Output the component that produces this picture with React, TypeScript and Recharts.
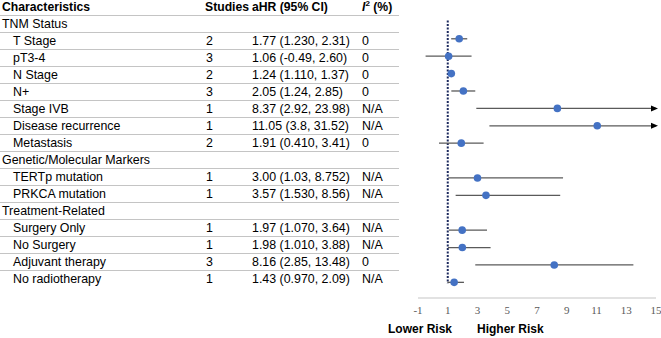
import React from 'react'
import { ScatterChart, Scatter, XAxis, YAxis, ErrorBar, ReferenceLine } from 'recharts'

// table + forest plot data
const groups = ['TNM Status', 'Genetic/Molecular Markers', 'Treatment-Related']
const labels = [
  'T Stage', 'pT3-4', 'N Stage', 'N+', 'Stage IVB', 'Disease recurrence', 'Metastasis',
  'TERTp mutation', 'PRKCA mutation',
  'Surgery Only', 'No Surgery', 'Adjuvant therapy', 'No radiotherapy',
]
const groupOf = [0, 0, 0, 0, 0, 0, 0, 1, 1, 2, 2, 2, 2]
const studies = [2, 3, 2, 3, 1, 1, 2, 1, 1, 1, 1, 3, 1]
const hrText = ['1.77', '1.06', '1.24', '2.05', '8.37', '11.05', '1.91', '3.00', '3.57', '1.97', '1.98', '8.16', '1.43']
const loText = ['1.230', '-0.49', '1.110', '1.24', '2.92', '3.8', '0.410', '1.03', '1.530', '1.070', '1.010', '2.85', '0.970']
const hiText = ['2.31', '2.60', '1.37', '2.85', '23.98', '31.52', '3.41', '8.752', '8.56', '3.64', '3.88', '13.48', '2.09']
const i2 = ['0', '0', '0', '0', 'N/A', 'N/A', '0', 'N/A', 'N/A', 'N/A', 'N/A', '0', 'N/A']
const xTicks = [-1, 1, 3, 5, 7, 9, 11, 13, 15]
const X_MIN = -1
const X_MAX = 15

type Row = { kind: 'group' | 'item'; text: string; i?: number }

const rows: Row[] = []
labels.forEach((l, i) => {
  if (i === 0 || groupOf[i] !== groupOf[i - 1]) rows.push({ kind: 'group', text: groups[groupOf[i]] })
  rows.push({ kind: 'item', text: l, i })
})

// row index 0 is the header, so items start at 1
const points = rows
  .map((r, idx) => ({ r, idx: idx + 1 }))
  .filter(d => d.r.kind === 'item')
  .map(({ r, idx }) => {
    const i = r.i as number
    const hr = parseFloat(hrText[i])
    const lo = parseFloat(loText[i])
    const hi = parseFloat(hiText[i])
    return { x: hr, y: idx, err: [hr - lo, Math.min(hi, X_MAX) - hr], over: hi > X_MAX }
  })
const arrows = points.filter(p => p.over).map(p => ({ x: X_MAX, y: p.y }))

const font = '"Liberation Sans", Arial, sans-serif'
const ROW_H = 17
const cols = { studies: 205, ahr: 252, i2: 362 }

function Table() {
  const total = rows.length + 1
  const rowStyle = (k: number): React.CSSProperties => ({
    position: 'absolute', left: 0, top: k * ROW_H - 1, width: 399, height: 16,
    borderBottom: k < total - 1 ? '1px solid #c4c4c4' : 'none',
    lineHeight: '16px', fontSize: 12.4, color: '#000', fontFamily: font, whiteSpace: 'nowrap',
  })
  const cell = (left: number): React.CSSProperties => ({ position: 'absolute', left, top: 0 })
  return (
    <div style={{ position: 'absolute', left: 0, top: 0, width: 400, height: 300 }}>
      <div style={{ ...rowStyle(0), fontWeight: 700, fontSize: 12.2 }}>
        <span style={cell(2)}>Characteristics</span>
        <span style={cell(cols.studies)}>Studies</span>
        <span style={cell(cols.ahr)}>aHR (95% CI)</span>
        <span style={cell(cols.i2)}>
          <i>I</i><sup style={{ fontSize: 8, verticalAlign: 'top', lineHeight: '10px' }}>2</sup> (%)
        </span>
      </div>
      {rows.map((r, k) => (
        <div key={k} style={rowStyle(k + 1)}>
          {r.kind === 'group' ? (
            <span style={cell(2)}>{r.text}</span>
          ) : (
            <>
              <span style={cell(13)}>{r.text}</span>
              <span style={cell(cols.studies + 1)}>{studies[r.i as number]}</span>
              <span style={cell(cols.ahr)}>
                {hrText[r.i as number]} ({loText[r.i as number]}, {hiText[r.i as number]})
              </span>
              <span style={cell(cols.i2)}>{i2[r.i as number]}</span>
            </>
          )}
        </div>
      ))}
    </div>
  )
}

export default function App() {
  return (
    <div style={{ position: 'absolute', left: 0, top: 0, width: 661, height: 338, background: '#fff' }}>
      <Table />
      <div style={{ position: 'absolute', left: 0, top: 0 }}>
        <ScatterChart width={661} height={338} margin={{ top: 4, right: 5, bottom: 10, left: 418 }}>
          <XAxis
            type="number"
            dataKey="x"
            domain={[X_MIN, X_MAX]}
            ticks={xTicks}
            interval={0}
            tickLine={false}
            axisLine={{ stroke: '#d9d9d9', strokeWidth: 1.5 }}
            tick={{ fill: '#595959', fontSize: 11, fontFamily: '"Liberation Serif", "Times New Roman", serif' }}
            height={30}
          />
          <YAxis type="number" dataKey="y" domain={[0, 16.9]} reversed hide />
          <ReferenceLine
            segment={[{ x: 1, y: 0.95 }, { x: 1, y: 16.05 }]}
            stroke="#1c2a5e"
            strokeWidth={2}
            strokeDasharray="2 1.5"
          />
          <Scatter
            data={points}
            isAnimationActive={false}
            shape={(p: any) => <circle cx={p.cx} cy={p.cy} r={3.8} fill="#4472c4" />}
          >
            <ErrorBar dataKey="err" direction="x" width={0} stroke="#5a5a5a" strokeWidth={1.3} />
          </Scatter>
          <Scatter
            data={arrows}
            isAnimationActive={false}
            shape={(p: any) => (
              <polygon
                points={`${p.cx + 2},${p.cy} ${p.cx - 5},${p.cy - 3} ${p.cx - 5},${p.cy + 3}`}
                fill="#000"
              />
            )}
          />
        </ScatterChart>
      </div>
      <div style={{ position: 'absolute', left: 388, top: 322, fontFamily: font, fontSize: 12, fontWeight: 700, color: '#000' }}>
        Lower Risk
      </div>
      <div style={{ position: 'absolute', left: 477, top: 322, fontFamily: font, fontSize: 12, fontWeight: 700, color: '#000' }}>
        Higher Risk
      </div>
    </div>
  )
}
